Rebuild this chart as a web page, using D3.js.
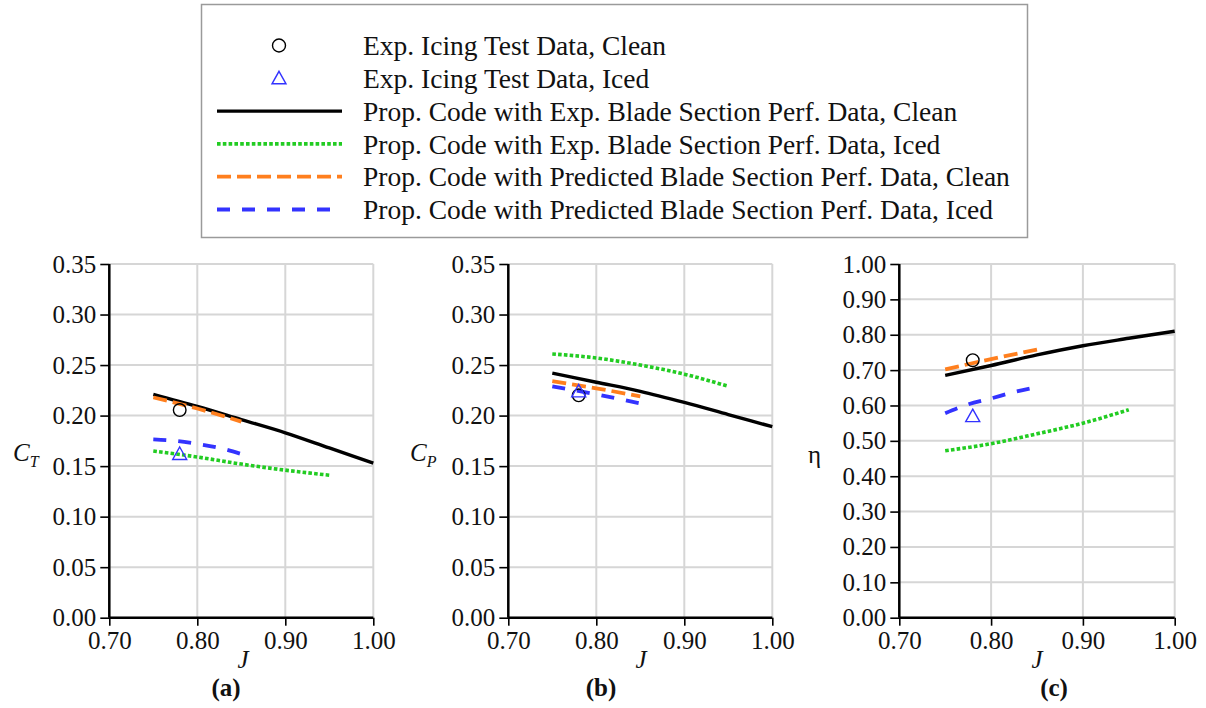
<!DOCTYPE html>
<html>
<head>
<meta charset="utf-8">
<script src="https://cdn.jsdelivr.net/npm/d3@7"></script>
<style>
  html, body { margin: 0; padding: 0; background: #fff; }
  svg { display: block; }
  svg text { font-family: "Liberation Serif", "Times New Roman", serif !important; }
</style>
</head>
<body>
<svg id="chart" width="1206" height="708"></svg>
<script>
// ---------------- DATA ----------------
const J_full = [0.75, 0.80, 0.85, 0.90, 0.95, 1.00];
const J_icedExp = [0.75, 0.80, 0.85, 0.90, 0.95];
const J_pred = [0.75, 0.80, 0.85];
const J_pred5 = [0.75, 0.775, 0.80, 0.825, 0.85];
const J_test = [0.78];

// (a) thrust coefficient
const ctExpClean = [0.221, 0.209, 0.196, 0.183, 0.168, 0.153];
const ctExpIced = [0.165, 0.159, 0.152, 0.146, 0.141];
const ctPredClean = [0.218, 0.207, 0.194];
const ctPredIced = [0.1765, 0.175, 0.172, 0.168, 0.162];
const ctTestClean = [0.2055];
const ctTestIced = [0.162];

// (b) power coefficient
const cpExpClean = [0.242, 0.233, 0.224, 0.213, 0.201, 0.189];
const cpExpIced = [0.261, 0.257, 0.250, 0.241, 0.229];
const cpPredClean = [0.234, 0.227, 0.219];
const cpPredIced = [0.229, 0.221, 0.212];
const cpTestClean = [0.220];
const cpTestIced = [0.224];

// (c) efficiency
const etaExpClean = [0.685, 0.713, 0.743, 0.769, 0.790, 0.810];
const etaExpIced = [0.472, 0.492, 0.520, 0.550, 0.588];
const etaPredClean = [0.702, 0.731, 0.758];
const etaPredIced = [0.578, 0.603, 0.620, 0.638, 0.652];
const etaTestClean = [0.728];
const etaTestIced = [0.570];

const xTickValues = [0.70, 0.80, 0.90, 1.00];
const ctTickValues = [0, 0.05, 0.10, 0.15, 0.20, 0.25, 0.30, 0.35];
const etaTickValues = [0, 0.1, 0.2, 0.3, 0.4, 0.5, 0.6, 0.7, 0.8, 0.9, 1.0];

const legendLabels = [
  "Exp. Icing Test Data, Clean",
  "Exp. Icing Test Data, Iced",
  "Prop. Code with Exp. Blade Section Perf. Data, Clean",
  "Prop. Code with Exp. Blade Section Perf. Data, Iced",
  "Prop. Code with Predicted Blade Section Perf. Data, Clean",
  "Prop. Code with Predicted Blade Section Perf. Data, Iced"
];

// ---------------- STYLES ----------------
const GREEN = "#22cc22", ORANGE = "#ff7f1e", BLUE = "#3333ff";
const styles = {
  expClean: { stroke: "#000", width: 3.4, dash: null },
  expIced: { stroke: GREEN, width: 3.6, dash: "3.6,2.2" },
  predClean: { stroke: ORANGE, width: 3.8, dash: "14,6" },
  predIced: { stroke: BLUE, width: 3.8, dash: "13,12" }
};

const svg = d3.select("#chart");

// ---------------- LEGEND ----------------
const lg = svg.append("g");
lg.append("rect").attr("x", 201.5).attr("y", 4.5).attr("width", 826).attr("height", 233)
  .attr("fill", "#fff").attr("stroke", "#9a9a9a").attr("stroke-width", 1.5);
const rowY = d3.scaleLinear().domain([0, 5]).range([45.5, 209.5]);
legendLabels.forEach((t, i) => {
  lg.append("text").attr("x", 363).attr("y", rowY(i)).attr("dy", "0.35em")
    .attr("font-size", 27.5).attr("fill", "#111").text(t);
});
lg.append("circle").attr("cx", 279).attr("cy", rowY(0)).attr("r", 6.5)
  .attr("fill", "none").attr("stroke", "#000").attr("stroke-width", 1.4);
lg.append("path").attr("transform", `translate(279,${rowY(1)})`)
  .attr("d", "M0,-7L7,5.5L-7,5.5Z").attr("fill", "none").attr("stroke", BLUE).attr("stroke-width", 1.4);
["expClean", "expIced", "predClean", "predIced"].forEach((k, i) => {
  const s = styles[k];
  lg.append("line").attr("x1", 217).attr("x2", 342).attr("y1", rowY(i + 2)).attr("y2", rowY(i + 2))
    .attr("stroke", s.stroke).attr("stroke-width", s.width).attr("stroke-dasharray", s.dash);
});

// ---------------- PANELS ----------------
function panel(cfg) {
  const g = svg.append("g");
  const x = d3.scaleLinear().domain([0.70, 1.00]).range([cfg.x0, cfg.x1]);
  const y = d3.scaleLinear().domain([0, cfg.ymax]).range([617.7, 264]);

  // grid
  const grid = g.append("g").attr("stroke", "#d6d6d6").attr("stroke-width", 2);
  cfg.yTicks.forEach(v => grid.append("line").attr("x1", x(0.70)).attr("x2", x(1.00))
    .attr("y1", y(v)).attr("y2", y(v)));
  xTickValues.forEach(v => grid.append("line").attr("x1", x(v)).attr("x2", x(v))
    .attr("y1", y(0)).attr("y2", y(cfg.ymax)));

  // curves
  const line = d3.line().x(d => x(d[0])).y(d => y(d[1])).curve(d3.curveMonotoneX);
  cfg.series.forEach(s => {
    const st = styles[s.style];
    g.append("path").datum(d3.zip(s.J, s.v)).attr("d", line)
      .attr("fill", "none").attr("stroke", st.stroke).attr("stroke-width", st.width)
      .attr("stroke-dasharray", st.dash);
  });

  // test points
  d3.zip(J_test, cfg.testClean).forEach(d => {
    g.append("circle").attr("cx", x(d[0])).attr("cy", y(d[1])).attr("r", 6.3)
      .attr("fill", "none").attr("stroke", "#000").attr("stroke-width", 1.4);
  });
  d3.zip(J_test, cfg.testIced).forEach(d => {
    g.append("path").attr("transform", `translate(${x(d[0])},${y(d[1])})`)
      .attr("d", "M0,-7L7,5.5L-7,5.5Z").attr("fill", "none").attr("stroke", BLUE).attr("stroke-width", 1.4);
  });

  // x axis
  const xMinor = d3.range(0, 16).map(i => 0.70 + i * 0.02);
  const xa = g.append("g").attr("transform", `translate(0,${y(0)})`);
  xa.call(d3.axisBottom(x).tickValues(xMinor).tickSize(6).tickFormat(""));
  xa.call(d3.axisBottom(x).tickValues(xTickValues).tickSize(8).tickPadding(6).tickFormat(d3.format(".2f")));
  xa.attr("font-family", null).attr("font-size", null);
  xa.selectAll("path.domain").attr("stroke-width", 2.5).attr("stroke", "#000");
  xa.selectAll(".tick line").attr("stroke", "#000").attr("stroke-width", 1.6);
  xa.selectAll("text").style("font-size", "25px").attr("fill", "#111");

  // y axis
  const ya = g.append("g").attr("transform", `translate(${x(0.70)},0)`);
  ya.call(d3.axisLeft(y).tickValues(cfg.yMinor).tickSize(5).tickFormat(""));
  ya.call(d3.axisLeft(y).tickValues(cfg.yTicks).tickSize(9).tickPadding(4).tickFormat(d3.format(".2f")));
  ya.attr("font-family", null).attr("font-size", null);
  ya.selectAll("path.domain").attr("stroke-width", 2.5).attr("stroke", "#000");
  ya.selectAll(".tick line").attr("stroke", "#000").attr("stroke-width", 1.6);
  ya.selectAll("text").style("font-size", "25px").attr("fill", "#111");
  xa.selectAll("path.domain").attr("d", `M${x(0.70)},0H${x(1.00)}`);
  ya.selectAll("path.domain").attr("d", `M0,${y(0)}V${y(cfg.ymax)}`);

  // axis titles
  const yl = g.append("text").attr("x", cfg.ylx).attr("y", 461).attr("font-size", 25).attr("fill", "#111");
  if (cfg.ysub) {
    yl.append("tspan").attr("font-style", "italic").text(cfg.ylabel);
    yl.append("tspan").attr("font-style", "italic").attr("font-size", 16).attr("dy", 6).text(cfg.ysub);
  } else {
    yl.attr("y", 463).text(cfg.ylabel);
  }
  g.append("text").attr("x", cfg.jx).attr("y", 668).attr("text-anchor", "middle")
    .attr("font-size", 25).attr("font-style", "italic").attr("fill", "#111").text("J");
  g.append("text").attr("x", cfg.lx).attr("y", 696).attr("text-anchor", "middle")
    .attr("font-size", 25).attr("font-weight", "bold").attr("fill", "#111").text(cfg.letter);
}

const ctMinor = d3.range(0, 15).map(i => i * 0.025);
const etaMinor = d3.range(0, 21).map(i => i * 0.05);

panel({
  x0: 109.3, x1: 373.3, ymax: 0.35, yTicks: ctTickValues, yMinor: ctMinor,
  ylabel: "C", ysub: "T", ylx: 13, jx: 243, lx: 226, letter: "(a)",
  series: [
    { J: J_full, v: ctExpClean, style: "expClean" },
    { J: J_icedExp, v: ctExpIced, style: "expIced" },
    { J: J_pred, v: ctPredClean, style: "predClean" },
    { J: J_pred5, v: ctPredIced, style: "predIced" }
  ],
  testClean: ctTestClean, testIced: ctTestIced
});

panel({
  x0: 508.3, x1: 772.3, ymax: 0.35, yTicks: ctTickValues, yMinor: ctMinor,
  ylabel: "C", ysub: "P", ylx: 410, jx: 641, lx: 601, letter: "(b)",
  series: [
    { J: J_full, v: cpExpClean, style: "expClean" },
    { J: J_icedExp, v: cpExpIced, style: "expIced" },
    { J: J_pred, v: cpPredClean, style: "predClean" },
    { J: J_pred, v: cpPredIced, style: "predIced" }
  ],
  testClean: cpTestClean, testIced: cpTestIced
});

panel({
  x0: 899.3, x1: 1174.7, ymax: 1.0, yTicks: etaTickValues, yMinor: etaMinor,
  ylabel: "η", ysub: null, ylx: 808, jx: 1037, lx: 1054, letter: "(c)",
  series: [
    { J: J_full, v: etaExpClean, style: "expClean" },
    { J: J_icedExp, v: etaExpIced, style: "expIced" },
    { J: J_pred, v: etaPredClean, style: "predClean" },
    { J: J_pred5, v: etaPredIced, style: "predIced" }
  ],
  testClean: etaTestClean, testIced: etaTestIced
});
</script>
</body>
</html>
